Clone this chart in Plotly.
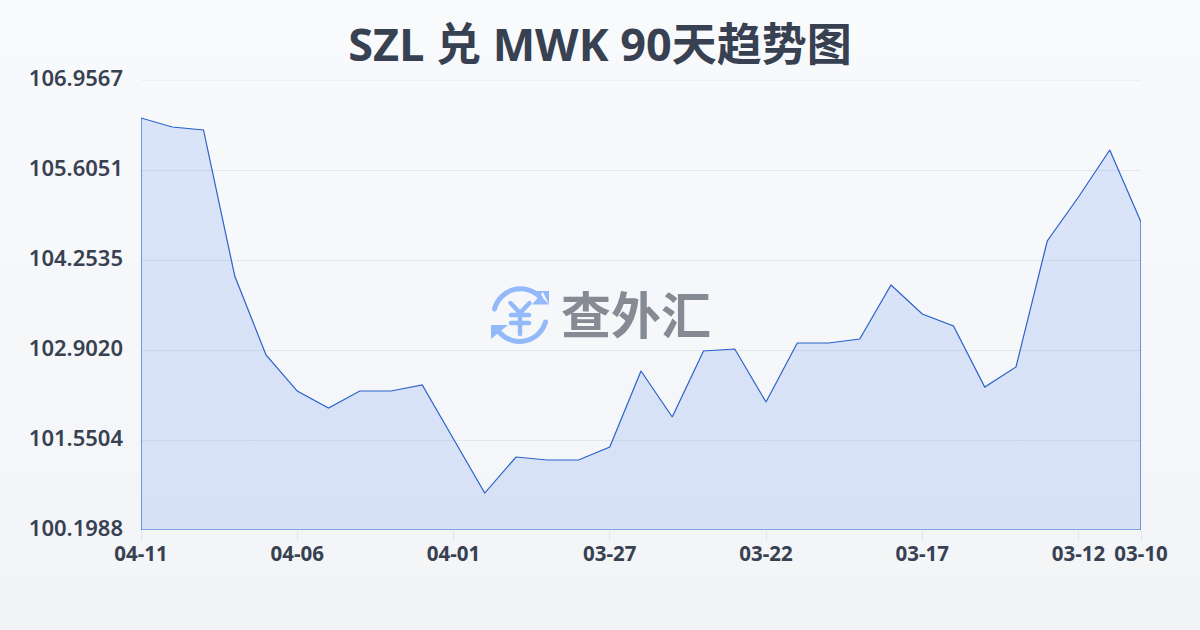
import base64
import plotly.graph_objects as go

W, H = 1200, 630
L, R, T, B = 141, 59, 80, 100
PW, PH = W - L - R, H - T - B

title = "SZL 兑 MWK 90天趋势图"
watermark = "查外汇"
dates_idx = [0, 5, 10, 15, 20, 25, 30, 32]
date_labels = ["04-11", "04-06", "04-01", "03-27", "03-22", "03-17", "03-12", "03-10"]
y_ticks = [100.1988, 101.5504, 102.9020, 104.2535, 105.6051, 106.9567]
y_labels = ["100.1988", "101.5504", "102.9020", "104.2535", "105.6051", "106.9567"]
values = [106.386, 106.251, 106.206, 104.013, 102.827, 102.286, 102.031, 102.286, 102.286,
          102.376, 101.565, 100.754, 101.295, 101.250, 101.250, 101.445, 102.587, 101.896,
          102.887, 102.917, 102.121, 103.007, 103.007, 103.067, 103.878, 103.443, 103.262,
          102.346, 102.647, 104.539, 105.200, 105.906, 104.824]
x_idx = list(range(len(values)))
y_min, y_max = y_ticks[0], y_ticks[-1]

INK = "#374151"
def px(x): return (x - L) / PW
def py(y): return (H - B - y) / PH

# page background: soft vertical gradient
top, bot = (249, 250, 252), (242, 244, 247)
bands = 24
shapes = []
for i in range(bands):
    t = i / (bands - 1)
    c = tuple(round(a + (b - a) * t) for a, b in zip(top, bot))
    shapes.append(dict(type="rect", xref="paper", yref="paper", layer="below",
                       x0=px(0), x1=px(W), y0=py(H * i / bands), y1=py(H * (i + 1) / bands + 1),
                       line_width=0, fillcolor=f"rgb{c}"))
# top gridline, which Plotly drops at the end of the axis range
shapes.append(dict(type="line", xref="x", yref="y", layer="below",
                   x0=x_idx[0], x1=x_idx[-1], y0=y_max, y1=y_max,
                   line=dict(color="#e5e7eb", width=1)))

logo = """<svg xmlns='http://www.w3.org/2000/svg' viewBox='0 0 60 60' width='240' height='240'>
<g fill='none' stroke='#93b9fa' stroke-width='5' stroke-linecap='round'>
<path d='M4.5 24 A27 27 0 0 1 50 12'/>
<path d='M55.5 37 A27 27 0 0 1 10 48'/>
<path d='M20.5 18 L30 28 L39.5 18 M21 30 H39 M21 38 H39 M30 28 V49' stroke-width='4.4'/>
</g>
<path d='M46 6 L59 19.5 L59 6 Z M59 19.5 L42 19.5 L53 7 Z' fill='#93b9fa'/>
<path d='M1 40 L18 40 L1 54 Z' fill='#93b9fa'/>
</svg>"""
logo_uri = "data:image/svg+xml;base64," + base64.b64encode(logo.encode()).decode()

fig = go.Figure()
fig.add_trace(go.Scatter(
    x=x_idx + [x_idx[-1], x_idx[0], x_idx[0]],
    y=values + [y_min, y_min, values[0]],
    mode="lines", fill="toself",
    fillgradient=dict(type="vertical", colorscale=[[0, "rgba(37,99,235,0.135)"], [1, "rgba(37,99,235,0.14)"]]),
    line=dict(color="#2a62c9", width=1.2), hoverinfo="skip", showlegend=False, cliponaxis=False))

fig.update_layout(
    width=W, height=H, autosize=False,
    margin=dict(l=L, r=R, t=T, b=B),
    paper_bgcolor="#f6f8fa", plot_bgcolor="rgba(0,0,0,0)",
    shapes=shapes,
    images=[dict(source=logo_uri, xref="paper", yref="paper", x=px(490), y=py(285),
                 sizex=60 / PW, sizey=60 / PH, sizing="stretch", layer="above",
                 xanchor="left", yanchor="top")],
    title=dict(text=title, x=0.5, xref="container", xanchor="center",
               y=1 - 45 / H, yref="container", yanchor="middle",
               font=dict(family="Noto Sans, Noto Sans CJK SC", size=45, color=INK, weight="bold")),
    annotations=[dict(text=watermark, xref="paper", yref="paper", x=px(636), y=py(312),
                      showarrow=False, xanchor="center", yanchor="middle",
                      font=dict(family="Noto Sans CJK SC", size=50, color="#858a93", weight="bold"))],
    xaxis=dict(range=[0, x_idx[-1]], tickmode="array", tickvals=dates_idx, ticktext=date_labels,
               showgrid=False, zeroline=False, showline=False, ticks="outside", ticklen=10, tickwidth=1,
               tickcolor="#e2e5ea", tickangle=0, ticklabelstandoff=-5,
               tickfont=dict(family="Noto Sans", size=20.5, color=INK, weight="bold")),
    yaxis=dict(range=[y_min, y_max], tickmode="array", tickvals=y_ticks, ticktext=y_labels,
               showgrid=True, gridcolor="#e5e7eb", gridwidth=1, zeroline=False, showline=False,
               ticks="", ticklabelstandoff=17, ticklabelshift=-2,
               tickfont=dict(family="Noto Sans", size=22, color=INK, weight=600)),
)
fig.write_html("out.html", config={"displayModeBar": False},
               post_script="document.body.style.margin='0';document.documentElement.style.overflow='hidden';")
